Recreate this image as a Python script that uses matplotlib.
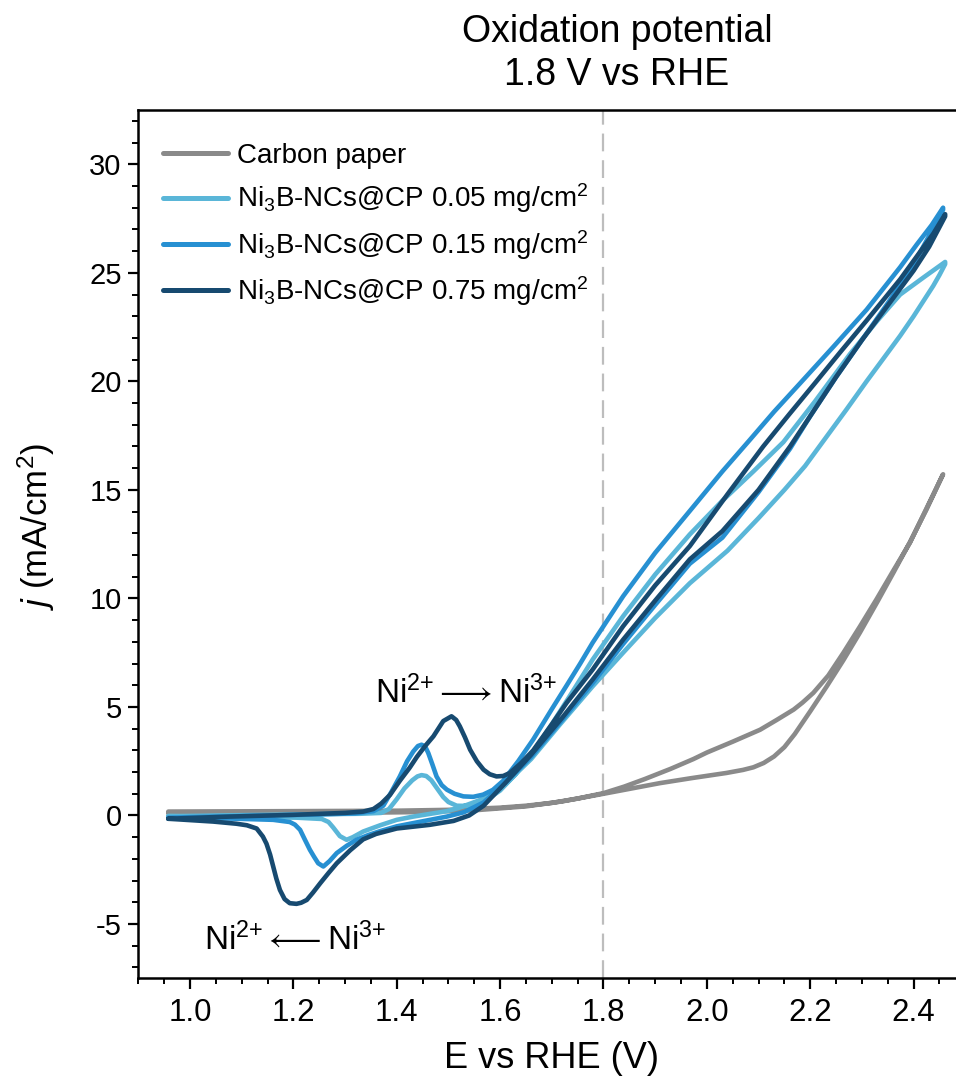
import numpy as np
import matplotlib
matplotlib.use("Agg")
import matplotlib.pyplot as plt
from matplotlib.ticker import MultipleLocator

plt.rcParams['font.family'] = ['Liberation Sans', 'DejaVu Sans']
plt.rcParams['mathtext.fontset'] = 'custom'
plt.rcParams['mathtext.rm'] = 'Liberation Sans'
plt.rcParams['mathtext.it'] = 'Liberation Sans:italic'
plt.rcParams['mathtext.bf'] = 'Liberation Sans:bold'
plt.rcParams['mathtext.fallback'] = 'stix'

# ---------------- data ----------------
labels = ["Carbon paper",
          "Ni$_3$B-NCs@CP 0.05 mg/cm$^2$",
          "Ni$_3$B-NCs@CP 0.15 mg/cm$^2$",
          "Ni$_3$B-NCs@CP 0.75 mg/cm$^2$"]
colors = ["#8a8a8a", "#5ab6d8", "#2790d2", "#174a70"]

# Carbon paper
cp_E_fwd = [0.958, 1.10, 1.30, 1.45, 1.55, 1.65, 1.72, 1.80, 1.86, 1.909, 1.97, 2.038, 2.07, 2.09,
            2.11, 2.13, 2.15, 2.17, 2.20, 2.232, 2.264, 2.296, 2.33, 2.361, 2.393, 2.425, 2.457]
cp_j_fwd = [0.10, 0.10, 0.12, 0.16, 0.24, 0.42, 0.65, 1.00, 1.27, 1.49, 1.72, 1.96, 2.10, 2.22,
            2.42, 2.72, 3.15, 3.75, 4.80, 5.95, 7.15, 8.42, 9.85, 11.19, 12.60, 14.10, 15.72]
cp_E_bwd = [2.457, 2.425, 2.393, 2.36, 2.328, 2.296, 2.264, 2.235, 2.206, 2.185, 2.168, 2.135, 2.103,
            2.05, 2.00, 1.974, 1.93, 1.88, 1.84, 1.80, 1.75, 1.70, 1.65, 1.60, 1.50, 1.40, 1.20, 0.958]
cp_j_bwd = [15.72, 14.15, 12.57, 11.25, 9.95, 8.70, 7.49, 6.45, 5.65, 5.20, 4.88, 4.40, 3.95,
            3.40, 2.90, 2.60, 2.15, 1.68, 1.33, 1.03, 0.78, 0.58, 0.45, 0.36, 0.26, 0.22, 0.20, 0.18]

# Ni3B 0.05 mg/cm2
l_E_fwd = [0.958, 1.05, 1.15, 1.25, 1.33, 1.37, 1.385, 1.40, 1.415, 1.43, 1.44, 1.448, 1.457, 1.467,
           1.478, 1.49, 1.50, 1.516, 1.535, 1.555, 1.58, 1.60, 1.63, 1.664, 1.70, 1.74, 1.779, 1.838,
           1.90, 1.967, 2.03, 2.09, 2.148, 2.21, 2.277, 2.33, 2.374, 2.42, 2.461]
l_j_fwd = [-0.05, 0.00, 0.03, 0.06, 0.08, 0.12, 0.30, 0.75, 1.25, 1.62, 1.80, 1.86, 1.82, 1.62,
           1.25, 0.85, 0.62, 0.45, 0.44, 0.55, 0.82, 1.15, 1.90, 2.95, 4.20, 5.70, 7.18, 9.18,
           11.10, 12.95, 14.50, 15.85, 17.20, 19.10, 21.26, 22.80, 24.00, 24.80, 25.50]
l_E_bwd = [2.461, 2.45, 2.438, 2.40, 2.374, 2.34, 2.309, 2.27, 2.23, 2.19, 2.15, 2.10, 2.04, 1.967,
           1.90, 1.838, 1.779, 1.716, 1.66, 1.61, 1.56, 1.52, 1.497, 1.432, 1.40, 1.368, 1.335, 1.315,
           1.303, 1.29, 1.277, 1.268, 1.255, 1.206, 1.077, 0.958]
l_j_bwd = [25.40, 24.90, 24.40, 23.00, 22.10, 21.00, 20.00, 18.70, 17.40, 16.10, 15.00, 13.70, 12.20, 10.70,
           9.10, 7.50, 5.95, 4.20, 2.60, 1.45, 0.70, 0.35, 0.20, -0.05, -0.20, -0.45, -0.74, -1.00,
           -1.12, -0.95, -0.55, -0.30, -0.16, -0.10, -0.05, -0.02]

# Ni3B 0.15 mg/cm2
m_E_fwd = [0.958, 1.05, 1.15, 1.25, 1.32, 1.355, 1.374, 1.39, 1.406, 1.42, 1.432, 1.441, 1.448, 1.455,
           1.461, 1.469, 1.477, 1.487, 1.497, 1.512, 1.529, 1.548, 1.567, 1.586, 1.606, 1.635, 1.664,
           1.70, 1.729, 1.755, 1.779, 1.838, 1.90, 1.967, 2.03, 2.083, 2.13, 2.18, 2.245, 2.309, 2.374,
           2.406, 2.435, 2.457]
m_j_fwd = [-0.10, -0.05, 0.00, 0.05, 0.10, 0.20, 0.45, 1.10, 1.80, 2.50, 2.95, 3.20, 3.26, 3.18,
           2.88, 2.35, 1.80, 1.40, 1.19, 1.00, 0.88, 0.86, 0.96, 1.18, 1.60, 2.50, 3.50,
           4.90, 6.00, 7.00, 7.96, 10.10, 12.10, 14.03, 15.85, 17.30, 18.60, 19.90, 21.60, 23.30, 25.26,
           26.30, 27.20, 28.00]
m_E_bwd = [2.457, 2.43, 2.40, 2.35, 2.30, 2.25, 2.20, 2.161, 2.10, 2.03, 1.967, 1.90, 1.838, 1.779,
           1.72, 1.66, 1.61, 1.568, 1.53, 1.497, 1.432, 1.40, 1.368, 1.345, 1.322, 1.303, 1.284, 1.27,
           1.258, 1.248, 1.24, 1.232, 1.222, 1.213, 1.203, 1.193, 1.161, 1.077, 0.958]
m_j_bwd = [27.90, 26.70, 25.40, 23.60, 21.90, 20.20, 18.40, 16.90, 14.90, 12.80, 11.60, 9.70, 7.90, 6.10,
           4.40, 2.70, 1.50, 0.60, 0.15, -0.05, -0.35, -0.50, -0.72, -0.90, -1.12, -1.40, -1.73, -2.10,
           -2.35, -2.20, -1.90, -1.58, -1.10, -0.66, -0.42, -0.30, -0.20, -0.14, -0.15]

# Ni3B 0.75 mg/cm2
d_E_fwd = [0.958, 1.077, 1.20, 1.30, 1.335, 1.355, 1.37, 1.387, 1.406, 1.425, 1.439, 1.455, 1.471, 1.49,
           1.506, 1.515, 1.522, 1.532, 1.542, 1.555, 1.568, 1.58, 1.593, 1.606, 1.619, 1.64, 1.664,
           1.70, 1.729, 1.779, 1.838, 1.90, 1.967, 2.04, 2.109, 2.16, 2.212, 2.26, 2.309, 2.374, 2.438,
           2.461]
d_j_fwd = [-0.15, -0.05, 0.03, 0.12, 0.18, 0.30, 0.55, 0.95, 1.60, 2.20, 2.70, 3.20, 3.65, 4.35,
           4.57, 4.40, 4.11, 3.60, 3.03, 2.50, 2.11, 1.90, 1.80, 1.82, 1.96, 2.40, 3.00,
           4.20, 5.20, 6.72, 8.72, 10.60, 12.41, 14.80, 17.00, 18.50, 20.00, 21.40, 22.80, 24.70, 26.80,
           27.70]
d_E_bwd = [2.461, 2.43, 2.40, 2.35, 2.30, 2.25, 2.20, 2.161, 2.10, 2.03, 1.967, 1.90, 1.838, 1.779,
           1.72, 1.66, 1.61, 1.568, 1.54, 1.51, 1.464, 1.40, 1.36, 1.335, 1.31, 1.284, 1.268, 1.252,
           1.238, 1.226, 1.215, 1.206, 1.193, 1.183, 1.174, 1.167, 1.161, 1.155, 1.148, 1.141, 1.129,
           1.11, 1.09, 1.045, 0.958]
d_j_bwd = [27.60, 26.20, 25.10, 23.50, 21.90, 20.20, 18.40, 17.00, 15.00, 13.10, 11.80, 9.90, 8.10, 6.26,
           4.50, 2.80, 1.50, 0.45, 0.00, -0.25, -0.43, -0.60, -0.85, -1.10, -1.60, -2.20, -2.65, -3.12,
           -3.55, -3.89, -4.02, -4.07, -4.04, -3.85, -3.43, -2.90, -2.35, -1.80, -1.30, -0.97, -0.60,
           -0.45, -0.38, -0.28, -0.15]

x_major = [1.0, 1.2, 1.4, 1.6, 1.8, 2.0, 2.2, 2.4]
y_major = [-5, 0, 5, 10, 15, 20, 25, 30]
E_ox = 1.8

series = [
    (cp_E_fwd, cp_j_fwd, cp_E_bwd, cp_j_bwd),
    (l_E_fwd, l_j_fwd, l_E_bwd, l_j_bwd),
    (m_E_fwd, m_j_fwd, m_E_bwd, m_j_bwd),
    (d_E_fwd, d_j_fwd, d_E_bwd, d_j_bwd),
]

# ---------------- figure ----------------
W, H = 956, 1085
fig = plt.figure(figsize=(W / 100, H / 100), dpi=100)
ax_l, ax_r, ax_t, ax_b = 138.3, 965.3, 110.0, 978.3
ax = fig.add_axes([ax_l / W, 1 - ax_b / H, (ax_r - ax_l) / W, (ax_b - ax_t) / H])

for (ef, jf, eb, jb), c, lab in zip(series, colors, labels):
    E = np.concatenate([ef, eb])
    J = np.concatenate([jf, jb])
    ax.plot(E, J, color=c, lw=3.3, label=lab, solid_capstyle='round', solid_joinstyle='round')

ax.axvline(E_ox, color="#bdbdbd", lw=1.6, ls=(0, (8, 4)), zorder=0)

ax.set_xlim(0.9, 2.5)
ax.set_ylim(-7.5, 32.5)
ax.set_xticks(x_major)
ax.set_yticks(y_major)
ax.xaxis.set_minor_locator(MultipleLocator(0.05))
ax.yaxis.set_minor_locator(MultipleLocator(1))

for s in ax.spines.values():
    s.set_linewidth(1.8)
ax.spines['right'].set_visible(False)

ax.tick_params(axis='x', which='major', direction='out', length=8, width=1.6, pad=6)
ax.tick_params(axis='x', which='minor', direction='out', length=4, width=1.4)
ax.tick_params(axis='y', which='major', direction='out', length=7, width=1.6, pad=5)
ax.tick_params(axis='y', which='minor', direction='out', length=4, width=1.4)
ax.tick_params(top=False, right=False, which='both')

ax.set_yticklabels([str(v) for v in y_major])
for t in ax.get_xticklabels():
    t.set_fontsize(22.5)
for t in ax.get_yticklabels():
    t.set_fontsize(21)

ax.set_xlabel("E vs RHE (V)", fontsize=26)
ax.xaxis.set_label_coords(0.5, -0.072)
ax.xaxis.label.set_va('top')
ax.set_ylabel(r"$j$ (mA/cm$^2$)", fontsize=25)
ax.yaxis.set_label_coords(-0.098, 0.521)

leg = ax.legend(loc='upper left', bbox_to_anchor=(0.03, 0.962), frameon=False, fontsize=20,
                handlelength=2.35, handletextpad=0.3, labelspacing=0.45, borderpad=0, borderaxespad=0)
for h in leg.get_lines():
    h.set_linewidth(3.6)

ax.text(1.534, 5.2, r"Ni$^{2{+}}\longrightarrow$Ni$^{3{+}}$", fontsize=24, ha='center', va='baseline')
ax.text(1.203, -6.2, r"Ni$^{2{+}}\longleftarrow$Ni$^{3{+}}$", fontsize=24, ha='center', va='baseline')

fig.text(617 / W, 1 - 42 / H, "Oxidation potential", fontsize=27, ha='center', va='baseline')
fig.text(617 / W, 1 - 85 / H, "1.8 V vs RHE", fontsize=27, ha='center', va='baseline')

fig.savefig("out.png", dpi=100)
